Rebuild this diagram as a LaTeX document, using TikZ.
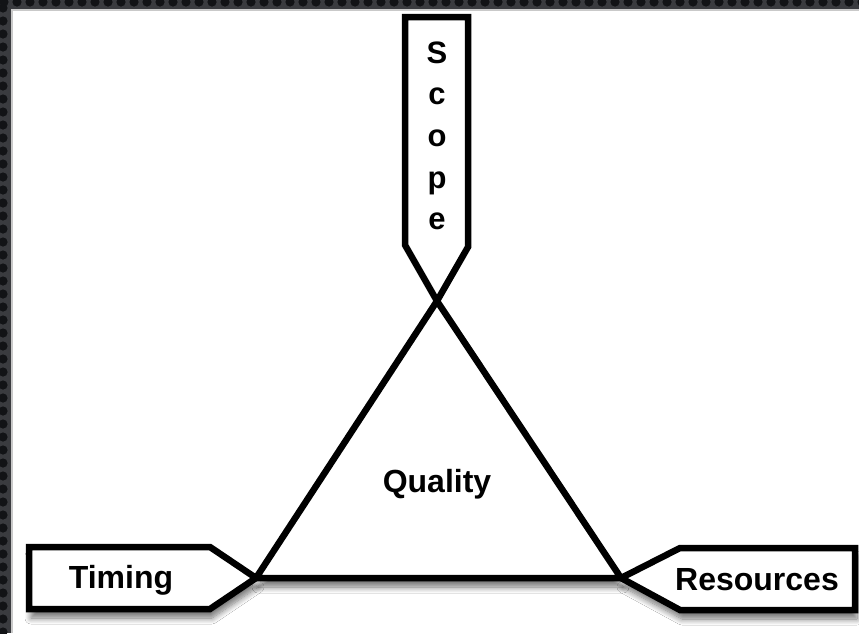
\documentclass[tikz,border=0pt]{standalone}
\usepackage{fontspec}
\setmainfont{Liberation Sans}
\usetikzlibrary{shadows.blur}
\definecolor{plate}{HTML}{3A3B3F}
\definecolor{hole}{HTML}{121316}
\definecolor{panelrim}{HTML}{C9C9C9}
\begin{document}
\begin{tikzpicture}[x=1pt,y=-1pt,
  outline/.style={draw=black, fill=white, line width=6.5pt, line join=miter},
  softshadow/.style={blur shadow={shadow xshift=2pt, shadow yshift=-9pt,
      shadow blur radius=6pt, shadow blur steps=10, shadow opacity=55}},
  tagtext/.style={font=\bfseries\fontsize{32}{38}\selectfont, inner sep=0pt, anchor=base},
  letter/.style={font=\bfseries\fontsize{31}{36}\selectfont, inner sep=0pt, anchor=base}]
\useasboundingbox (0,0) rectangle (859,633);

% perforated metal frame along the top and left edges
\fill[plate] (0,0) rectangle (859,633);
\foreach \i in {0,...,66} {
  \fill[hole] (\i*13+4, 2) circle (4.6);
}
\foreach \j in {0,...,49} {
  \fill[hole] (3, \j*13+8) circle (4.6);
}
\fill[white] (11,9) rectangle (859,633);
\draw[panelrim, line width=1.5pt] (11.75,633) -- (11.75,9.75) -- (859,9.75);

% corners of the triangle
\coordinate (apex) at (437,301);
\coordinate (bl) at (256,578);
\coordinate (br) at (621,578);

% triangle
\draw[outline, softshadow] (apex) -- (bl) -- (br) -- cycle;

% Timing pointer
\draw[outline, softshadow] (29,547) -- (210,547) -- (bl) -- (210,609) -- (29,609) -- cycle;

% Resources pointer
\draw[outline, softshadow] (855,548) -- (680,548) -- (br) -- (680,610) -- (855,610) -- cycle;

% Scope pointer
\draw[outline] (405,245) -- (405,17) -- (468,17) -- (468,247) -- (apex) -- cycle;

% texts
\node[tagtext] (quality) at (437,492) {Quality};
\node[tagtext] (timing) at (121,588) {Timing};
\node[tagtext] (resources) at (757,590) {Resources};
\foreach \ch/\yy [count=\k] in {S/63,c/104,o/146,p/188,e/229}
  \node[letter] (scope\k) at (437,\yy) {\ch};
\end{tikzpicture}
\end{document}
